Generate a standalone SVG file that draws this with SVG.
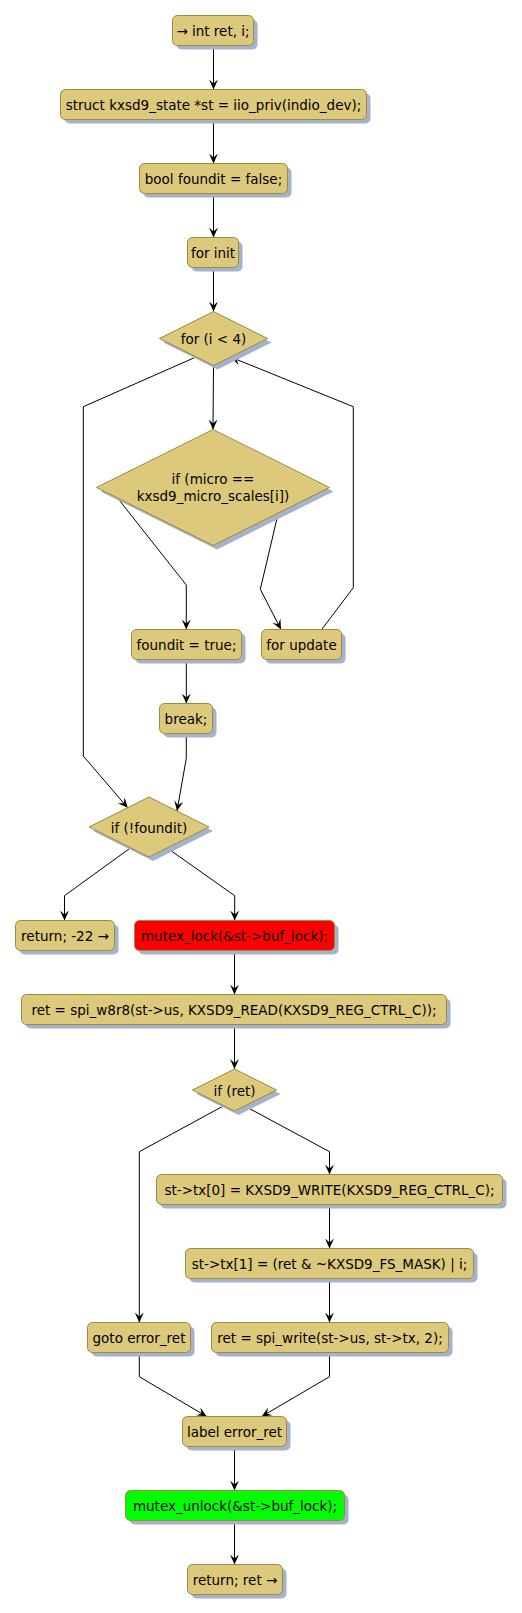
<svg xmlns="http://www.w3.org/2000/svg" width="522" height="1613" viewBox="0 0 522 1613">
<style>
.box{fill:#DDC97B;stroke:#9C8A3E;stroke-width:1}
.red{fill:#FF0000;stroke:#9C8A3E;stroke-width:1}
.green{fill:#00FF00;stroke:#9C8A3E;stroke-width:1}
.sh{fill:#A4B2CB}
.t{font-family:"DejaVu Sans",sans-serif;font-size:13.5px;fill:#000;text-anchor:middle}
.c{fill:none;stroke:#000;stroke-width:1;marker-end:url(#ah)}
</style>
<defs>
<marker id="ah" viewBox="0 0 10 10" refX="10" refY="5" markerWidth="10" markerHeight="10" markerUnits="userSpaceOnUse" orient="auto">
<path d="M0,0.5 L10,5 L0,9.5 L4,5 Z" fill="#000"/>
</marker>
</defs>
<rect width="522" height="1613" fill="#FFFFFF"/>
<g id="connectors">
<polyline class="c" points="213.5,45.5 213.5,89.5"/>
<polyline class="c" points="213.5,119.5 213.5,163.5"/>
<polyline class="c" points="213.5,193.5 213.5,237.5"/>
<polyline class="c" points="213.5,267.5 213.5,311.5"/>
<polyline class="c" points="213.5,365.5 213,429.5"/>
<polyline class="c" points="195.3,357.3 83.3,406.7 83.3,756 127.7,807.8"/>
<polyline class="c" points="117.3,497.7 186.3,585 186.3,629.5"/>
<polyline class="c" points="278.3,513 260.3,589.3 281,629.5"/>
<polyline class="c" points="321.7,629.5 353.3,587.7 353.3,406.7 231,357.2"/>
<polyline class="c" points="186.3,659.5 186.3,703.5"/>
<polyline class="c" points="186.3,733.5 186.3,758.3 177,811"/>
<polyline class="c" points="130.7,847.7 64.5,895.7 64.5,920.5"/>
<polyline class="c" points="166.7,847.7 234.7,895.7 234.7,920.5"/>
<polyline class="c" points="234.5,950.5 234.5,994.5"/>
<polyline class="c" points="234.5,1024.5 234.5,1069"/>
<polyline class="c" points="222,1106.7 139.3,1151.7 139.3,1322.5"/>
<polyline class="c" points="246,1106.7 329.5,1151.7 329.5,1174.5"/>
<polyline class="c" points="329.5,1204.5 329.5,1248.5"/>
<polyline class="c" points="329.5,1278.5 329.5,1322.5"/>
<polyline class="c" points="139.3,1352.5 139.3,1376.7 206.7,1416.5"/>
<polyline class="c" points="329.5,1352.5 329.5,1376.7 261.7,1416.5"/>
<polyline class="c" points="234.5,1446.5 234.5,1490.5"/>
<polyline class="c" points="234.5,1520.5 234.5,1564.5"/>
</g>
<g id="n1"><rect class="sh" x="176.5" y="19.5" width="81" height="30" rx="5"/><rect class="box" x="172.5" y="15.5" width="81" height="30" rx="5"/><text class="t" x="213" y="35.5">→ int ret, i;</text></g>
<g id="n2"><rect class="sh" x="64.5" y="93.5" width="306" height="30" rx="5"/><rect class="box" x="60.5" y="89.5" width="306" height="30" rx="5"/><text class="t" x="213.5" y="109.5">struct kxsd9_state *st = iio_priv(indio_dev);</text></g>
<g id="n3"><rect class="sh" x="143.5" y="167.5" width="148" height="30" rx="5"/><rect class="box" x="139.5" y="163.5" width="148" height="30" rx="5"/><text class="t" x="213.5" y="183.5">bool foundit = false;</text></g>
<g id="n4"><rect class="sh" x="191.5" y="241.5" width="51" height="30" rx="5"/><rect class="box" x="187.5" y="237.5" width="51" height="30" rx="5"/><text class="t" x="213" y="257.5">for init</text></g>
<g id="n5"><polygon class="sh" points="217.5,315.5 271.5,342.5 217.5,369.5 163.5,342.5"/><polygon class="box" points="213.5,311.5 267.5,338.5 213.5,365.5 159.5,338.5"/><text class="t" x="213.5" y="343.5">for (i &lt; 4)</text></g>
<g id="n6"><polygon class="sh" points="217,433.5 333.5,491.5 217,549.5 100.5,491.5"/><polygon class="box" points="213,429.5 329.5,487.5 213,545.5 96.5,487.5"/><text class="t" x="213" y="484">if (micro ==</text><text class="t" x="213" y="500.5">kxsd9_micro_scales[i])</text></g>
<g id="n7"><rect class="sh" x="135.5" y="633.5" width="110" height="30" rx="5"/><rect class="box" x="131.5" y="629.5" width="110" height="30" rx="5"/><text class="t" x="186.5" y="649.5">foundit = true;</text></g>
<g id="n8"><rect class="sh" x="265.5" y="633.5" width="80" height="30" rx="5"/><rect class="box" x="261.5" y="629.5" width="80" height="30" rx="5"/><text class="t" x="301.5" y="649.5">for update</text></g>
<g id="n9"><rect class="sh" x="163.5" y="707.5" width="53" height="30" rx="5"/><rect class="box" x="159.5" y="703.5" width="53" height="30" rx="5"/><text class="t" x="186" y="723.5">break;</text></g>
<g id="n10"><polygon class="sh" points="153,801 213,831 153,861 93,831"/><polygon class="box" points="149,797 209,827 149,857 89,827"/><text class="t" x="149" y="832.5">if (!foundit)</text></g>
<g id="n11"><rect class="sh" x="19.5" y="924.5" width="99" height="30" rx="5"/><rect class="box" x="15.5" y="920.5" width="99" height="30" rx="5"/><text class="t" x="65" y="940.5">return; -22 →</text></g>
<g id="n12"><rect class="sh" x="138.5" y="924.5" width="200" height="30" rx="5"/><rect class="red" x="134.5" y="920.5" width="200" height="30" rx="5"/><text class="t" x="234.5" y="940.5">mutex_lock(&amp;st-&gt;buf_lock);</text></g>
<g id="n13"><rect class="sh" x="25.5" y="998.5" width="425" height="30" rx="5"/><rect class="box" x="21.5" y="994.5" width="425" height="30" rx="5"/><text class="t" x="234" y="1014.5">ret = spi_w8r8(st-&gt;us, KXSD9_READ(KXSD9_REG_CTRL_C));</text></g>
<g id="n14"><polygon class="sh" points="238.5,1073 280.5,1094 238.5,1115 196.5,1094"/><polygon class="box" points="234.5,1069 276.5,1090 234.5,1111 192.5,1090"/><text class="t" x="234.5" y="1095.5">if (ret)</text></g>
<g id="n15"><rect class="sh" x="160.5" y="1178.5" width="346" height="30" rx="5"/><rect class="box" x="156.5" y="1174.5" width="346" height="30" rx="5"/><text class="t" x="329.5" y="1194.5">st-&gt;tx[0] = KXSD9_WRITE(KXSD9_REG_CTRL_C);</text></g>
<g id="n16"><rect class="sh" x="189.5" y="1252.5" width="288" height="30" rx="5"/><rect class="box" x="185.5" y="1248.5" width="288" height="30" rx="5"/><text class="t" x="329.5" y="1268.5">st-&gt;tx[1] = (ret &amp; ~KXSD9_FS_MASK) | i;</text></g>
<g id="n17"><rect class="sh" x="91.5" y="1326.5" width="103" height="30" rx="5"/><rect class="box" x="87.5" y="1322.5" width="103" height="30" rx="5"/><text class="t" x="139" y="1342.5">goto error_ret</text></g>
<g id="n18"><rect class="sh" x="215.5" y="1326.5" width="237" height="30" rx="5"/><rect class="box" x="211.5" y="1322.5" width="237" height="30" rx="5"/><text class="t" x="330" y="1342.5">ret = spi_write(st-&gt;us, st-&gt;tx, 2);</text></g>
<g id="n19"><rect class="sh" x="186.5" y="1420.5" width="104" height="30" rx="5"/><rect class="box" x="182.5" y="1416.5" width="104" height="30" rx="5"/><text class="t" x="234.5" y="1436.5">label error_ret</text></g>
<g id="n20"><rect class="sh" x="129.5" y="1494.5" width="219" height="30" rx="5"/><rect class="green" x="125.5" y="1490.5" width="219" height="30" rx="5"/><text class="t" x="235" y="1510.5">mutex_unlock(&amp;st-&gt;buf_lock);</text></g>
<g id="n21"><rect class="sh" x="191.5" y="1568.5" width="95" height="30" rx="5"/><rect class="box" x="187.5" y="1564.5" width="95" height="30" rx="5"/><text class="t" x="235" y="1584.5">return; ret →</text></g>
</svg>
